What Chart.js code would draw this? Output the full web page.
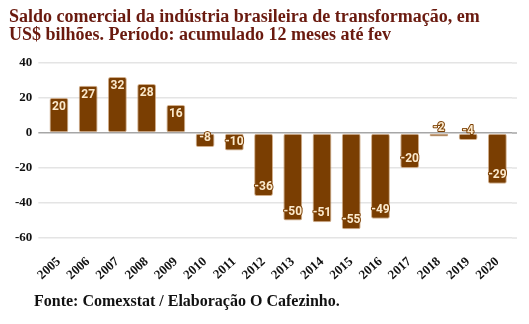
<!DOCTYPE html>
<html>
<head>
<meta charset="utf-8">
<script src="https://cdn.jsdelivr.net/npm/chart.js@4/dist/chart.umd.min.js"></script>
<style>
  html, body { margin: 0; padding: 0; background: #fff; }
  #wrap { width: 529px; height: 324px; }
</style>
</head>
<body>
<div id="wrap"><canvas id="chart"></canvas></div>
<script>
const years = ["2005", "2006", "2007", "2008", "2009", "2010", "2011", "2012",
  "2013", "2014", "2015", "2016", "2017", "2018", "2019", "2020"]
const saldo = [20, 27, 32, 28, 16, -8, -10, -36, -50, -51, -55, -49, -20, -2, -4, -29]
const titleLines = ["Saldo comercial da indústria brasileira de transformação, em",
  "US$ bilhões. Período: acumulado 12 meses até fev"]
const footerText = "Fonte: Comexstat / Elaboração O Cafezinho."

const BROWN = "#7a3e02"
const serif = "'Liberation Serif', 'Times New Roman', serif"

// value labels at the end of each bar, cream with a brown outline
const barLabels = {
  id: "barLabels",
  afterDatasetsDraw(chart) {
    const ctx = chart.ctx
    const meta = chart.getDatasetMeta(0)
    ctx.save()
    ctx.font = "bold 12px Roboto, sans-serif"
    ctx.textAlign = "center"
    ctx.textBaseline = "middle"
    ctx.lineJoin = "round"
    meta.data.forEach((bar, i) => {
      const v = saldo[i]
      const y = v >= 0 ? bar.y + 9 : bar.y - 9
      const txt = String(v)
      ctx.lineWidth = 2
      ctx.strokeStyle = BROWN
      ctx.strokeText(txt, bar.x, y)
      ctx.fillStyle = "#fbe9cc"
      ctx.fillText(txt, bar.x, y)
    })
    ctx.restore()
  },
}

// grid lines run a little past the right edge, plus the footer line
const extras = {
  id: "extras",
  beforeDatasetsDraw(chart) {
    const { ctx, chartArea, scales } = chart
    ctx.save()
    scales.y.ticks.forEach((t) => {
      const y = scales.y.getPixelForValue(t.value)
      ctx.strokeStyle = t.value === 0 ? "#a6a6a6" : "#e4e4e4"
      ctx.lineWidth = 1.5
      ctx.beginPath()
      ctx.moveTo(chartArea.right, y)
      ctx.lineTo(chartArea.right + 5, y)
      ctx.stroke()
    })
    ctx.restore()
  },
  afterDraw(chart) {
    const ctx = chart.ctx
    ctx.save()
    ctx.font = "bold 16px " + serif
    ctx.fillStyle = "#111"
    ctx.textBaseline = "alphabetic"
    ctx.fillText(footerText, 34, 306)
    ctx.restore()
  },
}

new Chart(document.getElementById("chart"), {
  type: "bar",
  data: {
    labels: years,
    datasets: [{
      data: saldo,
      backgroundColor: BROWN,
      borderColor: "rgba(190, 140, 90, 0.7)",
      borderWidth: 1,
      borderSkipped: false,
      borderRadius: 2,
      categoryPercentage: 1,
      barPercentage: 0.645,
    }],
  },
  options: {
    responsive: true,
    maintainAspectRatio: false,
    animation: false,
    layout: { padding: { left: 9, right: 17, top: 8, bottom: 33 } },
    plugins: {
      legend: { display: false },
      tooltip: { enabled: false },
      title: {
        display: true,
        text: titleLines,
        align: "start",
        color: "#6a1a0f",
        font: { family: serif, size: 18, weight: "bold", lineHeight: 1.0 },
        padding: { top: 0, bottom: 19 },
      },
    },
    scales: {
      x: {
        grid: { display: false },
        border: { display: false },
        ticks: {
          color: "#111",
          minRotation: 42,
          maxRotation: 42,
          autoSkip: false,
          padding: 8,
          font: { family: serif, size: 13, weight: "bold" },
        },
      },
      y: {
        min: -60,
        max: 40,
        border: { display: false },
        grid: {
          color: (c) => (c.tick && c.tick.value === 0 ? "#a6a6a6" : "#e4e4e4"),
          lineWidth: 1.5,
          tickLength: 6,
        },
        ticks: {
          stepSize: 20,
          color: "#111",
          padding: 6,
          font: { family: serif, size: 13, weight: "bold" },
        },
      },
    },
  },
  plugins: [barLabels, extras],
})
</script>
</body>
</html>
